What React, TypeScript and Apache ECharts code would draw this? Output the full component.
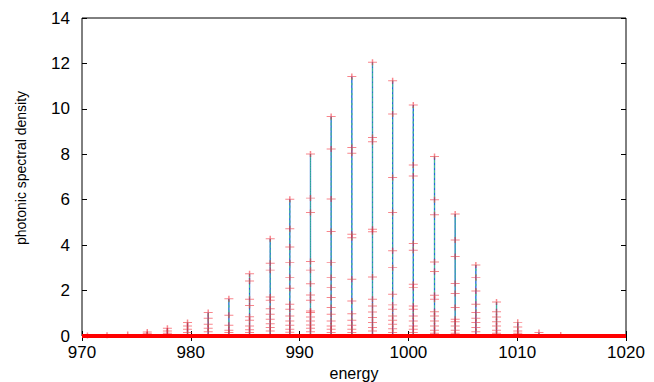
import React, { useEffect, useRef } from "react";
import * as echarts from "echarts";

// Peak energies (spike positions)
const peakEnergy = [
  970.5, 972.3, 974.2, 976.0, 977.85, 979.7, 981.6, 983.5, 985.4, 987.3,
  989.1, 991.0, 992.9, 994.8, 996.7, 998.55, 1000.45, 1002.4, 1004.3,
  1006.2, 1008.1, 1010.05, 1012.0, 1014.0,
];

// Marker levels on each spike (first = spike top)
const peakLevels: number[][] = [
  [0.02],
  [0.03],
  [0.07],
  [0.18, 0.1],
  [0.34, 0.22, 0.12],
  [0.59, 0.44, 0.3, 0.15],
  [1.03, 0.78, 0.52, 0.34, 0.19],
  [1.64, 0.91, 0.47, 0.25, 0.15],
  [2.74, 2.42, 1.62, 1.34, 0.85, 0.69, 0.44, 0.28, 0.15],
  [4.28, 3.2, 2.9, 1.72, 1.57, 1.2, 0.96, 0.74, 0.54, 0.37, 0.22],
  [6.02, 4.72, 3.92, 3.23, 2.57, 2.1, 1.4, 1.18, 0.88, 0.66, 0.47, 0.3, 0.17],
  [8.01, 6.07, 5.44, 3.28, 2.9, 2.3, 1.81, 1.57, 1.1, 1.03, 0.84, 0.66, 0.48, 0.34, 0.19],
  [9.66, 8.23, 6.03, 4.6, 3.23, 2.57, 2.13, 1.69, 1.25, 0.96, 0.66, 0.44, 0.3, 0.15],
  [11.42, 8.3, 8.05, 4.48, 4.33, 2.5, 1.54, 0.98, 0.69, 0.47, 0.3, 0.15],
  [12.05, 8.74, 8.55, 4.7, 4.59, 2.6, 1.62, 1.32, 1.06, 0.81, 0.59, 0.37, 0.22],
  [11.24, 9.77, 6.98, 5.44, 3.75, 3.01, 1.84, 1.37, 1.18, 0.88, 0.69, 0.52, 0.32, 0.15],
  [10.17, 7.53, 7.04, 4.07, 3.78, 2.28, 2.13, 1.32, 1.18, 0.88, 0.66, 0.44, 0.3, 0.15],
  [7.9, 6.0, 5.34, 3.26, 2.84, 1.79, 1.62, 1.07, 0.88, 0.66, 0.44, 0.25, 0.12],
  [5.37, 4.23, 3.5, 2.31, 1.87, 1.25, 0.74, 0.63, 0.44, 0.25, 0.12],
  [3.13, 2.57, 1.98, 1.4, 1.03, 0.78, 0.59, 0.37, 0.19],
  [1.5, 1.07, 0.84, 0.63, 0.44, 0.25, 0.12],
  [0.6, 0.4, 0.22, 0.12],
  [0.15],
  [0.04],
];

const energyRange = [970, 1020];
const xTicks = [970, 980, 990, 1000, 1010, 1020];
const yRange = [0, 14];

export default function App() {
  const ref = useRef<HTMLDivElement>(null);
  useEffect(() => {
    if (!ref.current) return;
    const chart = echarts.init(ref.current, undefined, { renderer: "svg" });

    const spikes: number[][] = [];
    const markers: number[][] = [];
    peakEnergy.forEach((x, i) => {
      const levels = peakLevels[i];
      spikes.push([x, 0], [x, levels[0]], [x, 0]);
      levels.forEach((v) => markers.push([x, v]));
    });
    const baseline = [
      [energyRange[0], 0],
      [energyRange[1], 0],
    ];

    const font = "'Liberation Sans', Arial, sans-serif";
    const plus = "path://M0,5L10,5M5,0L5,10";

    const axisCommon = {
      axisLine: { show: false },
      splitLine: { show: false },
    };
    const tick = { show: true, inside: true, length: 5, lineStyle: { color: "#000" } };

    chart.setOption({
      animation: false,
      backgroundColor: "#fff",
      grid: {
        left: 82,
        right: 28,
        top: 18,
        bottom: 46,
        outerBoundsMode: "none",
        containLabel: false,
        show: true,
        borderColor: "#000",
        borderWidth: 1,
        backgroundColor: "transparent",
      },
      xAxis: [
        {
          type: "value",
          min: energyRange[0],
          max: energyRange[1],
          interval: 10,
          ...axisCommon,
          axisTick: tick,
          axisLabel: {
            color: "#000",
            fontSize: 17,
            fontFamily: font,
            margin: 8,
            formatter: (v: number) => (xTicks.includes(v) ? String(v) : ""),
          },
          name: "energy",
          nameLocation: "middle",
          nameGap: 26,
          nameTextStyle: { color: "#000", fontSize: 16, fontFamily: font },
        },
        {
          type: "value",
          position: "top",
          min: energyRange[0],
          max: energyRange[1],
          interval: 10,
          ...axisCommon,
          axisTick: tick,
          axisLabel: { show: false },
        },
      ],
      yAxis: [
        {
          type: "value",
          min: yRange[0],
          max: yRange[1],
          interval: 2,
          ...axisCommon,
          axisTick: tick,
          axisLabel: { color: "#000", fontSize: 17, fontFamily: font, margin: 12 },
        },
        {
          type: "value",
          position: "right",
          min: yRange[0],
          max: yRange[1],
          interval: 2,
          ...axisCommon,
          axisTick: tick,
          axisLabel: { show: false },
        },
      ],
      graphic: [
        {
          type: "text",
          x: 21,
          y: 168,
          rotation: Math.PI / 2,
          style: {
            text: "photonic spectral density",
            fill: "#000",
            font: `14px ${font}`,
            align: "center",
            verticalAlign: "middle",
          },
        },
      ],
      series: [
        {
          type: "line",
          data: spikes,
          showSymbol: false,
          silent: true,
          lineStyle: { color: "#1f5ee0", width: 1.3 },
          z: 2,
        },
        {
          type: "line",
          data: spikes,
          showSymbol: false,
          silent: true,
          lineStyle: { color: "#4ad07a", width: 1, type: [2, 3], opacity: 0.8 },
          z: 3,
        },
        {
          type: "scatter",
          data: markers,
          symbol: plus,
          symbolSize: [9, 6],
          silent: true,
          itemStyle: {
            color: "transparent",
            borderColor: "rgba(245,40,50,0.7)",
            borderWidth: 1.2,
          },
          z: 4,
        },
        {
          type: "line",
          data: baseline,
          showSymbol: false,
          silent: true,
          lineStyle: { color: "#ff0000", width: 4 },
          z: 5,
        },
      ],
    });
    return () => chart.dispose();
  }, []);
  return <div ref={ref} style={{ width: 654, height: 382, position: "absolute", left: 0, top: 0 }} />;
}
